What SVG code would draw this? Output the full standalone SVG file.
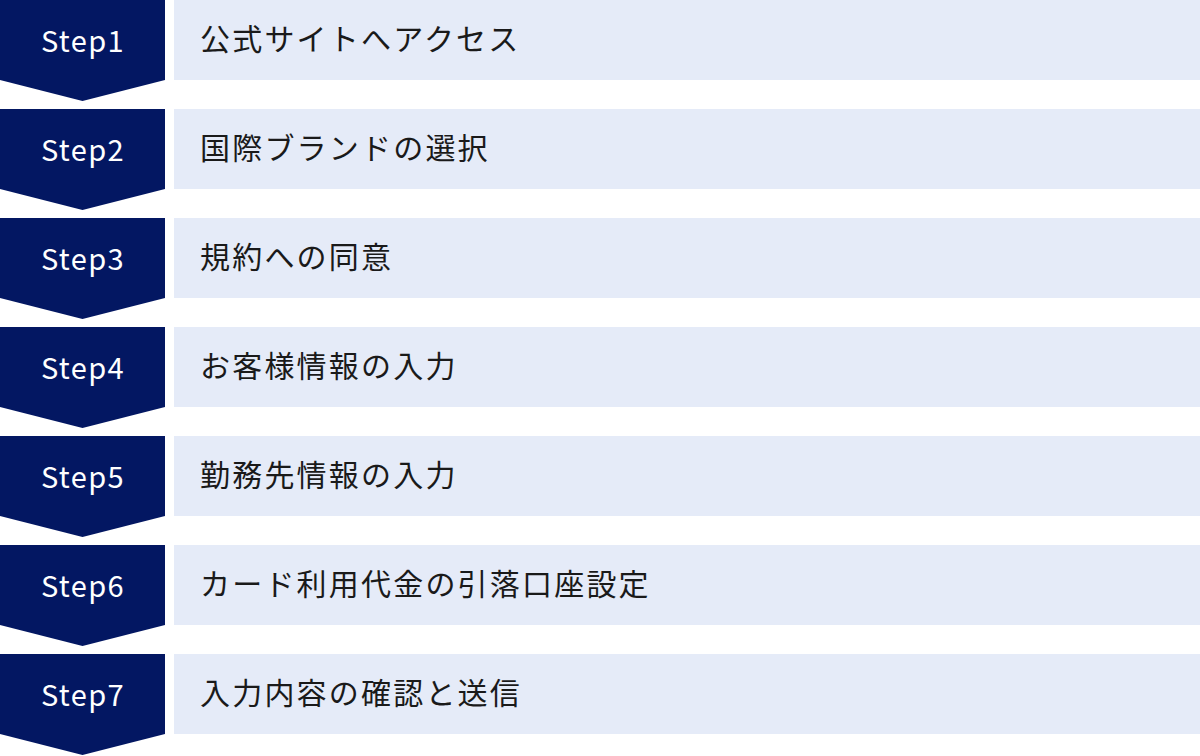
<svg xmlns="http://www.w3.org/2000/svg" width="1200" height="756" viewBox="0 0 1200 756">
<style>
.step{fill:#031762}
.box{fill:#e5ebf8}
.st{font-family:"Noto Sans CJK JP","Noto Sans",sans-serif;font-size:29px;fill:#ffffff;text-anchor:middle;letter-spacing:1.4px}
.lb{font-family:"Noto Sans CJK JP","Noto Sans",sans-serif;font-size:30px;fill:#1a1a1a;letter-spacing:2.2px}
</style>
<defs>
<path id="chev" d="M0 0H165V80L82.5 101L0 80Z"/>
</defs>
<g id="connectors"></g>
<g id="step1" transform="translate(0,0)">
<use href="#chev" class="step"/><rect class="box" x="174" y="0" width="1026" height="80"/>
<text class="st" x="83" y="52">Step1</text><text class="lb" x="200" y="49.5">公式サイトへアクセス</text>
</g>
<g id="step2" transform="translate(0,109)">
<use href="#chev" class="step"/><rect class="box" x="174" y="0" width="1026" height="80"/>
<text class="st" x="83" y="52">Step2</text><text class="lb" x="200" y="49.5">国際ブランドの選択</text>
</g>
<g id="step3" transform="translate(0,218)">
<use href="#chev" class="step"/><rect class="box" x="174" y="0" width="1026" height="80"/>
<text class="st" x="83" y="52">Step3</text><text class="lb" x="200" y="49.5">規約への同意</text>
</g>
<g id="step4" transform="translate(0,327)">
<use href="#chev" class="step"/><rect class="box" x="174" y="0" width="1026" height="80"/>
<text class="st" x="83" y="52">Step4</text><text class="lb" x="200" y="49.5">お客様情報の入力</text>
</g>
<g id="step5" transform="translate(0,436)">
<use href="#chev" class="step"/><rect class="box" x="174" y="0" width="1026" height="80"/>
<text class="st" x="83" y="52">Step5</text><text class="lb" x="200" y="49.5">勤務先情報の入力</text>
</g>
<g id="step6" transform="translate(0,545)">
<use href="#chev" class="step"/><rect class="box" x="174" y="0" width="1026" height="80"/>
<text class="st" x="83" y="52">Step6</text><text class="lb" x="200" y="49.5">カード利用代金の引落口座設定</text>
</g>
<g id="step7" transform="translate(0,654)">
<use href="#chev" class="step"/><rect class="box" x="174" y="0" width="1026" height="80"/>
<text class="st" x="83" y="52">Step7</text><text class="lb" x="200" y="49.5">入力内容の確認と送信</text>
</g>
</svg>
